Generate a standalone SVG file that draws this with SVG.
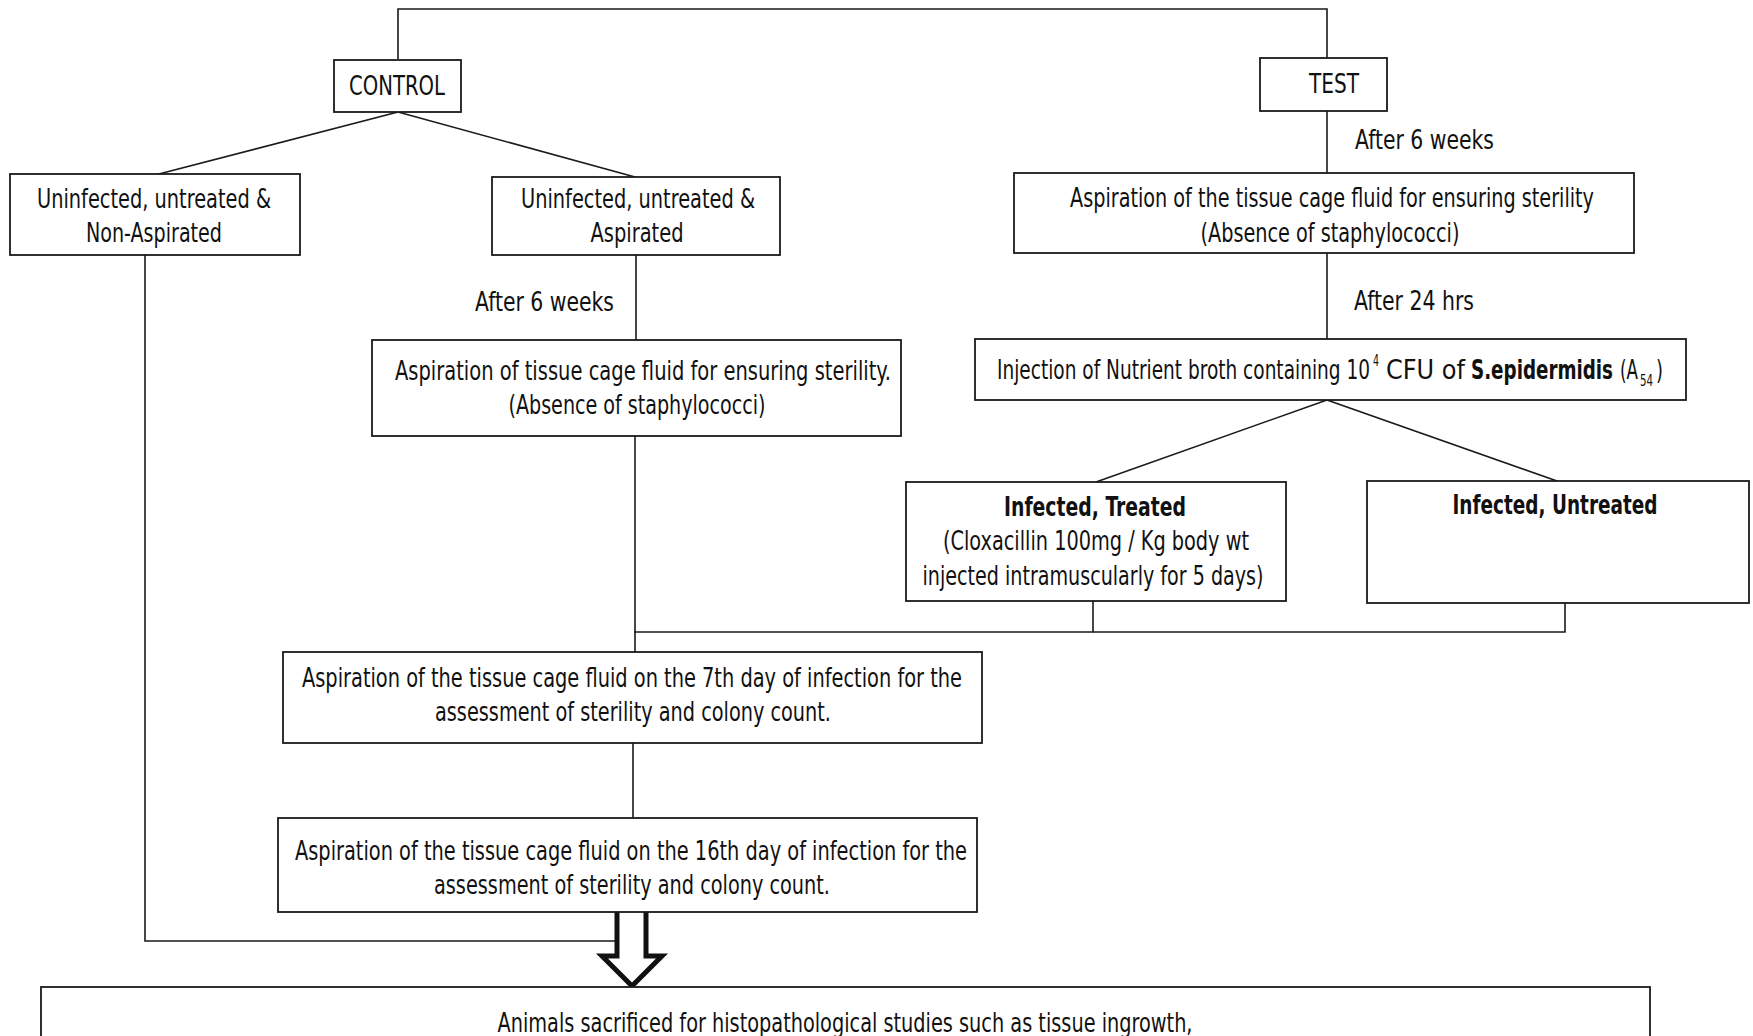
<svg xmlns="http://www.w3.org/2000/svg" width="1753" height="1036" viewBox="0 0 1753 1036">
<style>
.box{fill:#fff;stroke:#1a1a1a;stroke-width:1.8}
.ln{fill:none;stroke:#1a1a1a;stroke-width:1.6}
text{font-family:"Liberation Sans Narrow","DejaVu Sans Condensed","Liberation Sans",sans-serif;font-size:26px;fill:#111}
.c{text-anchor:middle}
.b{font-weight:bold}
.s{font-size:15px}
</style>
<rect width="1753" height="1036" fill="#fff"/>
<g id="connectors">
<polyline class="ln" points="398,59 398,9 1327,9 1327,58"/>
<line class="ln" x1="1327" y1="111" x2="1327" y2="173"/>
<line class="ln" x1="1327" y1="253" x2="1327" y2="339"/>
<line class="ln" x1="1327" y1="400" x2="1096" y2="482"/>
<line class="ln" x1="1327" y1="400" x2="1557" y2="481"/>
<line class="ln" x1="398" y1="112" x2="155" y2="175"/>
<line class="ln" x1="398" y1="112" x2="635" y2="177"/>
<line class="ln" x1="636" y1="255" x2="636" y2="340"/>
<line class="ln" x1="635" y1="436" x2="635" y2="652"/>
<polyline class="ln" points="1093,601 1093,632 634,632"/>
<polyline class="ln" points="1565,603 1565,632 1093,632"/>
<line class="ln" x1="633" y1="743" x2="633" y2="818"/>
<polyline class="ln" points="145,255 145,941 615,941"/>
<path d="M617,912 L617,956 L602,956 L632,986 L662,956 L646,956 L646,912" fill="#fff" stroke="#111" stroke-width="5" stroke-linejoin="miter"/>
</g>
<g id="control">
<rect class="box" x="334" y="60" width="127" height="52"/>
<text class="c" x="397" y="95" textLength="96" lengthAdjust="spacingAndGlyphs">CONTROL</text>
</g>
<g id="test">
<rect class="box" x="1260" y="58" width="127" height="53"/>
<text class="c" x="1334" y="93" textLength="50" lengthAdjust="spacingAndGlyphs">TEST</text>
</g>
<g id="label-after6-test">
<text x="1355" y="149" textLength="139" lengthAdjust="spacingAndGlyphs">After 6 weeks</text>
</g>
<g id="test-aspiration">
<rect class="box" x="1014" y="173" width="620" height="80"/>
<text class="c" x="1332" y="207" textLength="524" lengthAdjust="spacingAndGlyphs">Aspiration of the tissue cage fluid for ensuring sterility</text>
<text class="c" x="1330" y="242" textLength="259" lengthAdjust="spacingAndGlyphs">(Absence of staphylococci)</text>
</g>
<g id="label-after24">
<text x="1354" y="310" textLength="120" lengthAdjust="spacingAndGlyphs">After 24 hrs</text>
</g>
<g id="injection">
<rect class="box" x="975" y="339" width="711" height="61"/>
<text x="997" y="379" textLength="373" lengthAdjust="spacingAndGlyphs">Injection of Nutrient broth containing 10</text>
<text class="s" x="1373" y="366" textLength="6" lengthAdjust="spacingAndGlyphs">4</text>
<text x="1386" y="379" textLength="79" lengthAdjust="spacingAndGlyphs">CFU of</text>
<text class="b" x="1471" y="379" textLength="142" lengthAdjust="spacingAndGlyphs">S.epidermidis</text>
<text x="1620" y="379" textLength="18" lengthAdjust="spacingAndGlyphs">(A</text>
<text class="s" x="1640" y="386" textLength="13" lengthAdjust="spacingAndGlyphs">54</text>
<text x="1656" y="379" textLength="7" lengthAdjust="spacingAndGlyphs">)</text>
</g>
<g id="infected-treated">
<rect class="box" x="906" y="482" width="380" height="119"/>
<text class="c b" x="1095" y="516" textLength="182" lengthAdjust="spacingAndGlyphs">Infected, Treated</text>
<text class="c" x="1096" y="550" textLength="306" lengthAdjust="spacingAndGlyphs">(Cloxacillin 100mg / Kg body wt</text>
<text class="c" x="1093" y="585" textLength="341" lengthAdjust="spacingAndGlyphs">injected intramuscularly for 5 days)</text>
</g>
<g id="infected-untreated">
<rect class="box" x="1367" y="481" width="382" height="122"/>
<text class="c b" x="1555" y="514" textLength="205" lengthAdjust="spacingAndGlyphs">Infected, Untreated</text>
</g>
<g id="non-aspirated">
<rect class="box" x="10" y="174" width="290" height="81"/>
<text class="c" x="154" y="208" textLength="234" lengthAdjust="spacingAndGlyphs">Uninfected, untreated &amp;</text>
<text class="c" x="154" y="242" textLength="136" lengthAdjust="spacingAndGlyphs">Non-Aspirated</text>
</g>
<g id="aspirated">
<rect class="box" x="492" y="177" width="288" height="78"/>
<text class="c" x="638" y="208" textLength="234" lengthAdjust="spacingAndGlyphs">Uninfected, untreated &amp;</text>
<text class="c" x="637" y="242" textLength="93" lengthAdjust="spacingAndGlyphs">Aspirated</text>
</g>
<g id="label-after6-control">
<text x="475" y="311" textLength="139" lengthAdjust="spacingAndGlyphs">After 6 weeks</text>
</g>
<g id="control-aspiration">
<rect class="box" x="372" y="340" width="529" height="96"/>
<text class="c" x="643" y="380" textLength="496" lengthAdjust="spacingAndGlyphs">Aspiration of tissue cage fluid for ensuring sterility.</text>
<text class="c" x="637" y="414" textLength="257" lengthAdjust="spacingAndGlyphs">(Absence of staphylococci)</text>
</g>
<g id="day7">
<rect class="box" x="283" y="652" width="699" height="91"/>
<text class="c" x="632" y="687" textLength="660" lengthAdjust="spacingAndGlyphs">Aspiration of the tissue cage fluid on the 7th day of infection for the</text>
<text class="c" x="633" y="721" textLength="396" lengthAdjust="spacingAndGlyphs">assessment of sterility and colony count.</text>
</g>
<g id="day16">
<rect class="box" x="278" y="818" width="699" height="94"/>
<text class="c" x="631" y="860" textLength="672" lengthAdjust="spacingAndGlyphs">Aspiration of the tissue cage fluid on the 16th day of infection for the</text>
<text class="c" x="632" y="894" textLength="396" lengthAdjust="spacingAndGlyphs">assessment of sterility and colony count.</text>
</g>
<g id="sacrifice">
<rect class="box" x="41" y="987" width="1609" height="60"/>
<text class="c" x="845" y="1032" textLength="695" lengthAdjust="spacingAndGlyphs">Animals sacrificed for histopathological studies such as tissue ingrowth,</text>
</g>
</svg>
